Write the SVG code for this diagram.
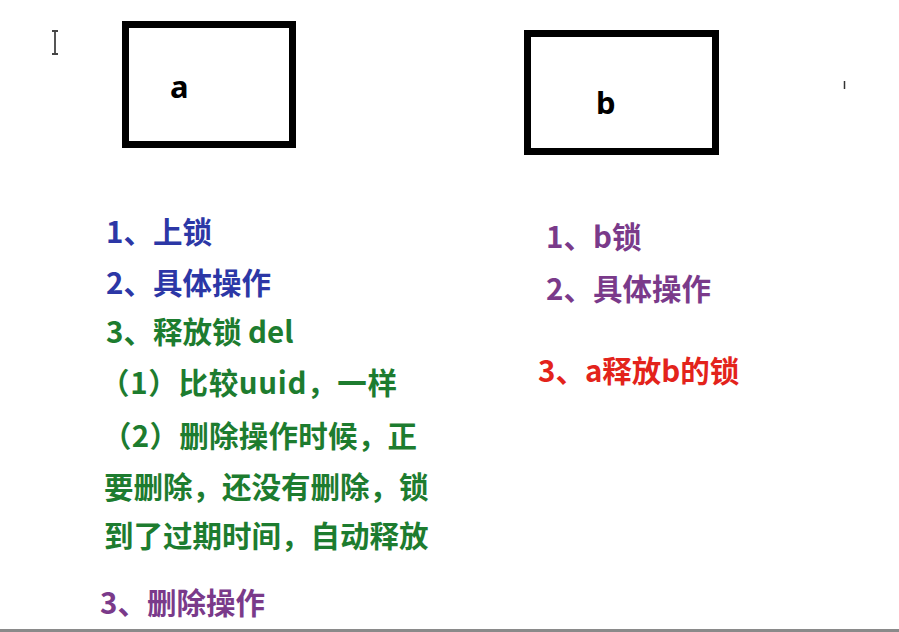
<svg xmlns="http://www.w3.org/2000/svg" width="899" height="632" viewBox="0 0 899 632">
<style>
.box{fill:none;stroke:#000;stroke-width:7}
.lbl{font-family:"Noto Sans","Noto Sans CJK SC",sans-serif;font-weight:bold;font-size:31px;fill:#000}
.t{font-family:"Noto Sans CJK SC","Noto Sans",sans-serif;font-weight:bold;font-size:29.5px}
.blue{fill:#2c37a6}
.green{fill:#1d7c2f}
.purple{fill:#7a3a8a}
.red{fill:#e3231b}
</style>
<rect width="899" height="632" fill="#fff"/>
<g id="cursor" stroke="#444" stroke-width="1.8" fill="none">
<path d="M55 31V54M52 31H58M52 54H58"/>
</g>
<path d="M844.5 81V89" stroke="#333" stroke-width="1.5"/>
<g id="connectors"></g>
<g id="node-a">
<rect class="box" x="125.5" y="24.5" width="167" height="120"/>
<text class="lbl" x="170" y="98">a</text>
</g>
<g id="node-b">
<rect class="box" x="527.5" y="33.5" width="188" height="118"/>
<text class="lbl" x="596" y="114">b</text>
</g>
<g id="left-notes" class="t">
<text class="blue" x="106" y="243">1、上锁</text>
<text class="blue" x="106" y="294">2、具体操作</text>
<text class="green" x="106" y="343">3、释放锁 del</text>
<text class="green" x="100" y="394" textLength="297" lengthAdjust="spacing">（1）比较uuid，一样</text>
<text class="green" x="102" y="447" textLength="315" lengthAdjust="spacing">（2）删除操作时候，正</text>
<text class="green" x="104" y="498">要删除，还没有删除，锁</text>
<text class="green" x="104" y="547">到了过期时间，自动释放</text>
<text class="purple" x="100" y="614">3、删除操作</text>
</g>
<g id="right-notes" class="t">
<text class="purple" x="546" y="248">1、b锁</text>
<text class="purple" x="546" y="300">2、具体操作</text>
<text class="red" x="538" y="382">3、a释放b的锁</text>
</g>
<rect x="0" y="629" width="899" height="3" fill="#8a8a8a"/>
</svg>
